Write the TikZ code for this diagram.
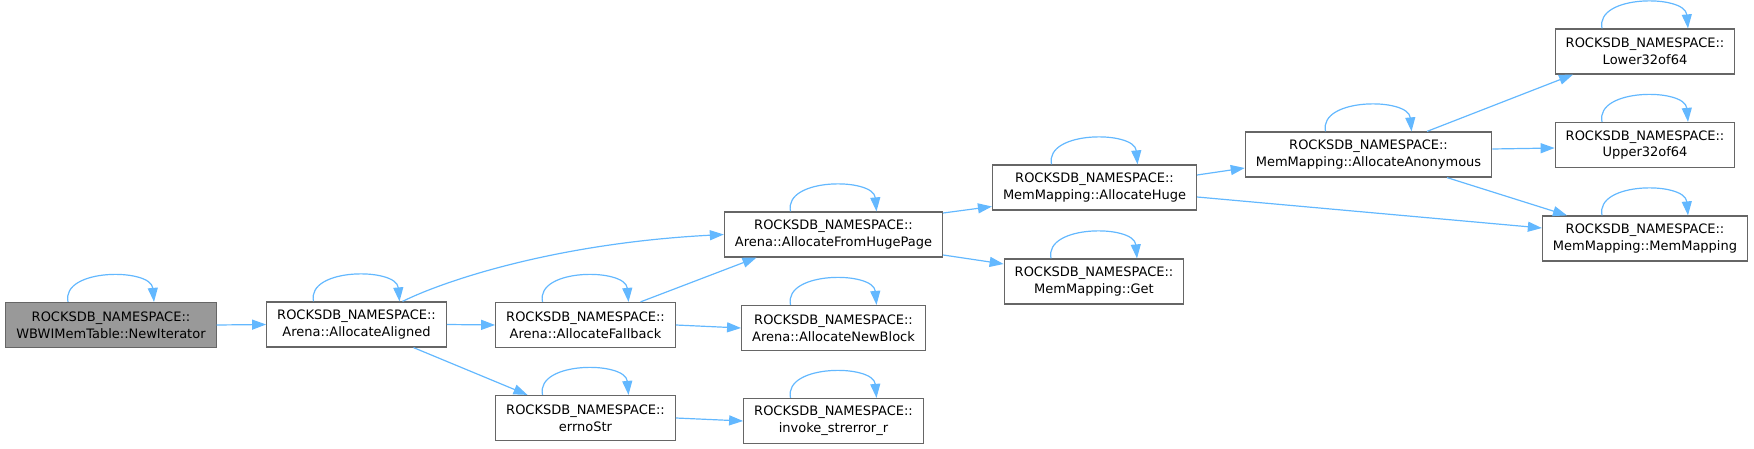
\documentclass[tikz,border=0pt]{standalone}
\usepackage{fontspec}
\setmainfont{DejaVu Sans}
\usetikzlibrary{arrows.meta,calc}
\definecolor{EdgeBlue}{HTML}{63B8FF}
\definecolor{BoxGrey}{HTML}{666666}
\definecolor{RootGrey}{HTML}{999999}

\begin{document}
\begin{tikzpicture}[x=1pt, y=-1pt,
    fn/.style={rectangle, draw=BoxGrey, fill=white, line width=1.2pt,
               minimum height=45pt, inner xsep=10.5pt, inner ysep=4pt,
               align=center, font=\fontsize{13}{16.7}\selectfont},
    root/.style={fn, fill=RootGrey},
    arr/.style={-{Triangle[length=14pt, width=10pt]}, line width=1.2pt, EdgeBlue},
    selfloop/.style={to path={
        ($(\tikztostart.north)+(-43,0)$)
        .. controls ($(\tikztostart.north)+(-50,-34)$)
        and ($(\tikztotarget.north)+(40,-34)$)
        .. ($(\tikztotarget.north)+(43,0)$)}}
  ]
    \useasboundingbox (0,0) rectangle (1754,449);

    \node[root] (ni) at (111,325) {ROCKSDB\_NAMESPACE::\\WBWIMemTable::NewIterator};
    \node[fn] (aal) at (356.5,324.5) {ROCKSDB\_NAMESPACE::\\Arena::AllocateAligned};
    \node[fn] (fb) at (585.5,325) {ROCKSDB\_NAMESPACE::\\Arena::AllocateFallback};
    \node[fn] (err) at (585.5,418) {ROCKSDB\_NAMESPACE::\\errnoStr};
    \node[fn] (hp) at (833.5,234.5) {ROCKSDB\_NAMESPACE::\\Arena::AllocateFromHugePage};
    \node[fn] (nb) at (833.5,328) {ROCKSDB\_NAMESPACE::\\Arena::AllocateNewBlock};
    \node[fn] (inv) at (833.5,421) {ROCKSDB\_NAMESPACE::\\invoke\_strerror\_r};
    \node[fn] (ah) at (1094.5,187.5) {ROCKSDB\_NAMESPACE::\\MemMapping::AllocateHuge};
    \node[fn] (get) at (1094,281.5) {ROCKSDB\_NAMESPACE::\\MemMapping::Get};
    \node[fn] (aa) at (1368.5,154.5) {ROCKSDB\_NAMESPACE::\\MemMapping::AllocateAnonymous};
    \node[fn] (lo) at (1645,51.5) {ROCKSDB\_NAMESPACE::\\Lower32of64};
    \node[fn] (up) at (1645,145) {ROCKSDB\_NAMESPACE::\\Upper32of64};
    \node[fn] (mm) at (1645,238.5) {ROCKSDB\_NAMESPACE::\\MemMapping::MemMapping};

    % recursive calls
    \foreach \n in {ni,aal,fb,err,hp,nb,inv,ah,get,aa,lo,up,mm}
      \draw[arr] (\n) to[selfloop] (\n);

    % calls
    \draw[arr] (ni.east) -- (aal.west);
    \draw[arr] ([xshift=46pt]aal.north) .. controls (448,279) and (560,243) .. (hp.west);
    \draw[arr] (aal.east) -- (fb.west);
    \draw[arr] ([xshift=57pt]aal.south) -- ([xshift=-58pt]err.north);
    \draw[arr] ([xshift=55pt]fb.north) -- ([xshift=-77pt]hp.south);
    \draw[arr] (fb.east) -- (nb.west);
    \draw[arr] (err.east) -- (inv.west);
    \draw[arr] ([yshift=21.5pt]hp.east) -- ([yshift=-19pt]ah.west);
    \draw[arr] ([yshift=-20.5pt]hp.east) -- ([yshift=17.5pt]get.west);
    \draw[arr] ([yshift=12.5pt]ah.east) -- ([yshift=-13.5pt]aa.west);
    \draw[arr] ([yshift=-9.5pt]ah.east) -- ([yshift=10.5pt]mm.west);
    \draw[arr] ([xshift=58.5pt]aa.north) -- ([xshift=-72pt]lo.south);
    \draw[arr] ([yshift=5.5pt]aa.east) -- ([yshift=-3pt]up.west);
    \draw[arr] ([xshift=78.5pt]aa.south) -- ([xshift=-78pt]mm.north);
\end{tikzpicture}
\end{document}
